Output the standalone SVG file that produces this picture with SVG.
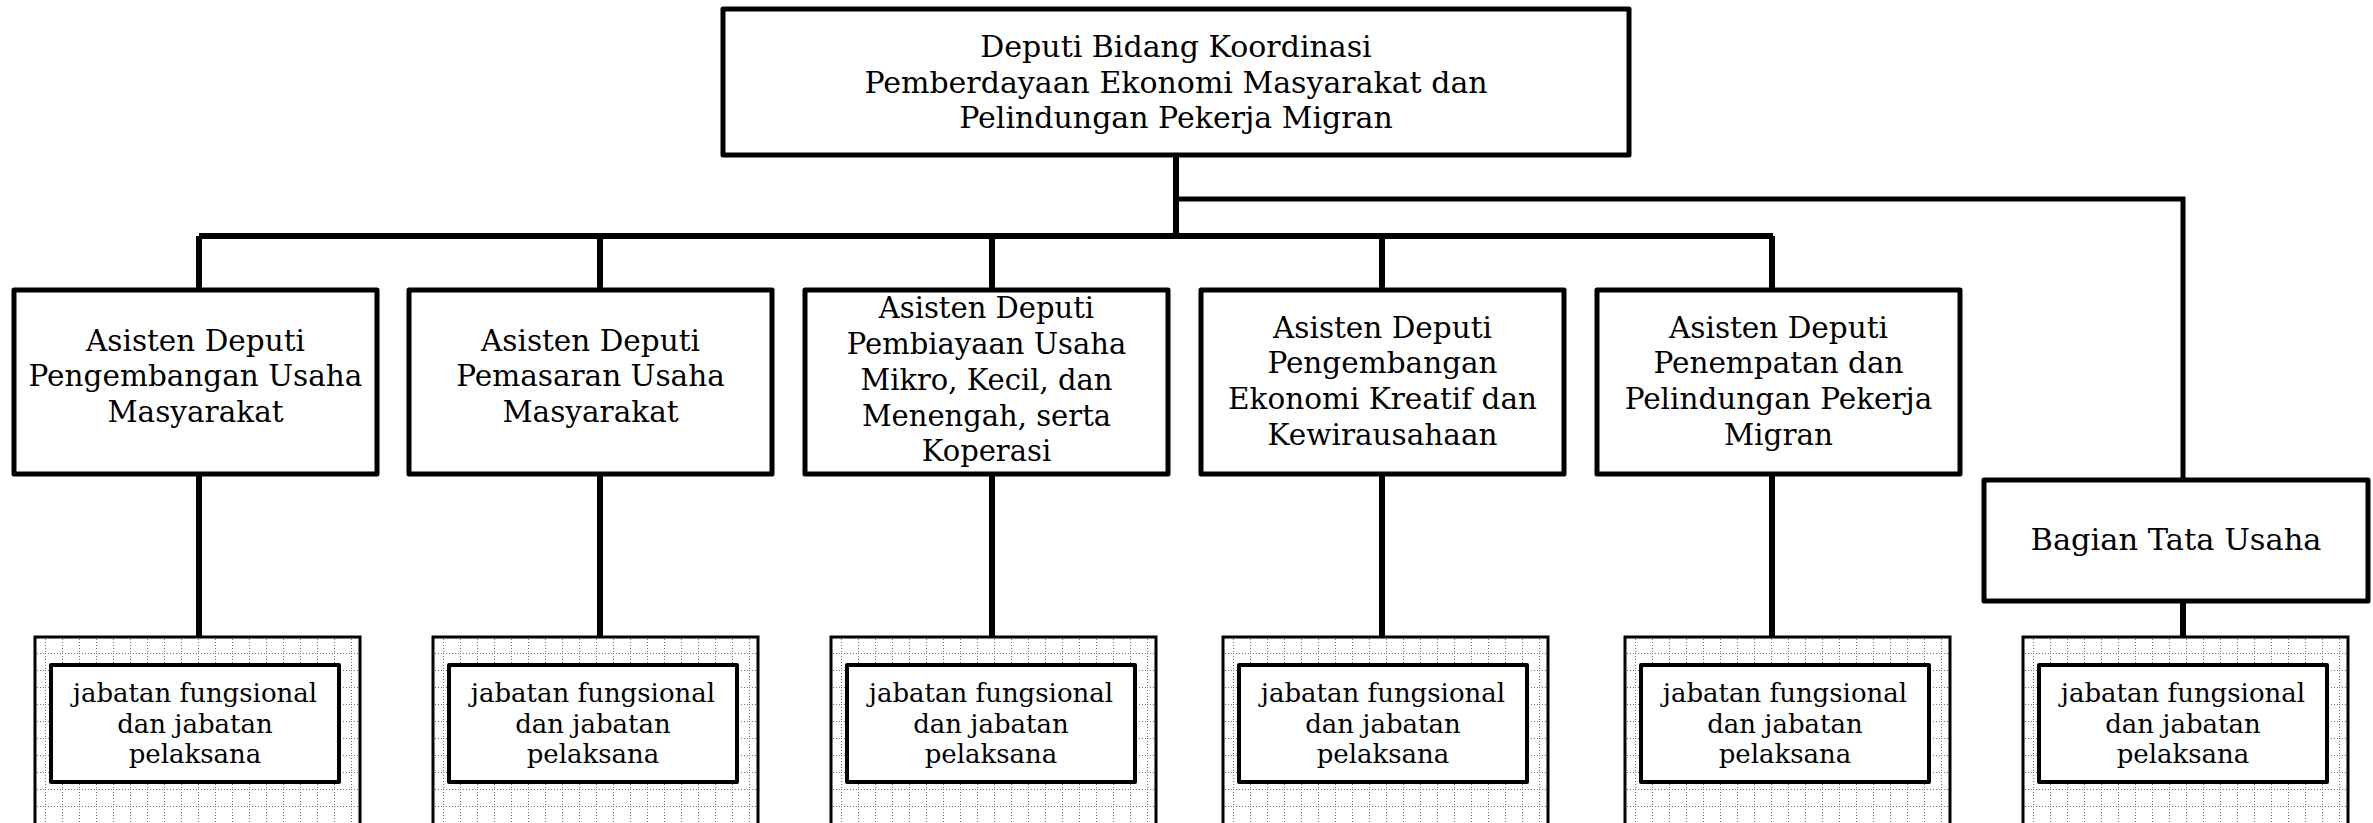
<svg xmlns="http://www.w3.org/2000/svg" width="2373" height="823" viewBox="0 0 2373 823">
<style>
.box{fill:#fff;stroke:#000;stroke-width:5;stroke-linejoin:round}
.inner{fill:#fff;stroke:#000;stroke-width:4;stroke-linejoin:round}
.outer{fill:url(#grid);stroke:#000;stroke-width:3}
.t{font-family:"DejaVu Serif","Liberation Serif",serif;font-size:29.5px;text-anchor:middle;fill:#000}
.h{font-size:30px}
.b{font-size:30.5px}
.m{font-size:29px}
.s{font-family:"DejaVu Serif","Liberation Serif",serif;font-size:26px;text-anchor:middle;fill:#000}
.c{fill:none;stroke:#000;stroke-width:6}
.c2{fill:none;stroke:#000;stroke-width:5}
</style>
<defs>
<pattern id="grid" width="17" height="17" patternUnits="userSpaceOnUse" x="10" y="16">
<rect width="17" height="17" fill="#fff"/>
<path d="M0 0.5H17M0.5 0V17" stroke="#707070" stroke-width="1" stroke-dasharray="1 2"/>
</pattern>
</defs>
<g id="connectors">
<path class="c" d="M1176 156V236M199 236H1773M199 236V290M600 236V290M992 236V290M1382 236V290M1772 236V290"/>
<path class="c2" d="M1176 199H2183V480"/>
<path class="c" d="M199 474V637M600 474V637M992 474V637M1382 474V637M1772 474V637M2183 601V637"/>
</g>
<g id="deputi">
<rect class="box" x="723" y="9" width="906" height="146"/>
<text class="t h" x="1176" y="57">Deputi Bidang Koordinasi</text>
<text class="t h" x="1176" y="93">Pemberdayaan Ekonomi Masyarakat dan</text>
<text class="t h" x="1176" y="128">Pelindungan Pekerja Migran</text>
</g>
<g id="asdep1">
<rect class="box" x="14" y="290" width="363" height="184"/>
<text class="t" x="195.5" y="351">Asisten Deputi</text>
<text class="t" x="195.5" y="386">Pengembangan Usaha</text>
<text class="t" x="195.5" y="422">Masyarakat</text>
</g>
<g id="asdep2">
<rect class="box" x="409" y="290" width="363" height="184"/>
<text class="t" x="590.5" y="351">Asisten Deputi</text>
<text class="t" x="590.5" y="386">Pemasaran Usaha</text>
<text class="t" x="590.5" y="422">Masyarakat</text>
</g>
<g id="asdep3">
<rect class="box" x="805" y="290" width="363" height="184"/>
<text class="t m" x="986.5" y="317.5">Asisten Deputi</text>
<text class="t m" x="986.5" y="353.5">Pembiayaan Usaha</text>
<text class="t m" x="986.5" y="389.5">Mikro, Kecil, dan</text>
<text class="t m" x="986.5" y="425.5">Menengah, serta</text>
<text class="t m" x="986.5" y="461">Koperasi</text>
</g>
<g id="asdep4">
<rect class="box" x="1201" y="290" width="363" height="184"/>
<text class="t" x="1382.5" y="338">Asisten Deputi</text>
<text class="t" x="1382.5" y="373">Pengembangan</text>
<text class="t" x="1382.5" y="409">Ekonomi Kreatif dan</text>
<text class="t" x="1382.5" y="445">Kewirausahaan</text>
</g>
<g id="asdep5">
<rect class="box" x="1597" y="290" width="363" height="184"/>
<text class="t" x="1778.5" y="338">Asisten Deputi</text>
<text class="t" x="1778.5" y="373">Penempatan dan</text>
<text class="t" x="1778.5" y="409">Pelindungan Pekerja</text>
<text class="t" x="1778.5" y="445">Migran</text>
</g>
<g id="tatausaha">
<rect class="box" x="1984" y="480" width="384" height="121"/>
<text class="t b" x="2176" y="550">Bagian Tata Usaha</text>
</g>
<g id="jf1" transform="translate(35,637)">
<rect class="outer" x="0" y="0" width="325" height="200"/>
<rect class="inner" x="16" y="28" width="288" height="117"/>
<text class="s" x="160" y="65">jabatan fungsional</text>
<text class="s" x="160" y="96">dan jabatan</text>
<text class="s" x="160" y="126">pelaksana</text>
</g>
<g id="jf2" transform="translate(433,637)">
<rect class="outer" x="0" y="0" width="325" height="200"/>
<rect class="inner" x="16" y="28" width="288" height="117"/>
<text class="s" x="160" y="65">jabatan fungsional</text>
<text class="s" x="160" y="96">dan jabatan</text>
<text class="s" x="160" y="126">pelaksana</text>
</g>
<g id="jf3" transform="translate(831,637)">
<rect class="outer" x="0" y="0" width="325" height="200"/>
<rect class="inner" x="16" y="28" width="288" height="117"/>
<text class="s" x="160" y="65">jabatan fungsional</text>
<text class="s" x="160" y="96">dan jabatan</text>
<text class="s" x="160" y="126">pelaksana</text>
</g>
<g id="jf4" transform="translate(1223,637)">
<rect class="outer" x="0" y="0" width="325" height="200"/>
<rect class="inner" x="16" y="28" width="288" height="117"/>
<text class="s" x="160" y="65">jabatan fungsional</text>
<text class="s" x="160" y="96">dan jabatan</text>
<text class="s" x="160" y="126">pelaksana</text>
</g>
<g id="jf5" transform="translate(1625,637)">
<rect class="outer" x="0" y="0" width="325" height="200"/>
<rect class="inner" x="16" y="28" width="288" height="117"/>
<text class="s" x="160" y="65">jabatan fungsional</text>
<text class="s" x="160" y="96">dan jabatan</text>
<text class="s" x="160" y="126">pelaksana</text>
</g>
<g id="jf6" transform="translate(2023,637)">
<rect class="outer" x="0" y="0" width="325" height="200"/>
<rect class="inner" x="16" y="28" width="288" height="117"/>
<text class="s" x="160" y="65">jabatan fungsional</text>
<text class="s" x="160" y="96">dan jabatan</text>
<text class="s" x="160" y="126">pelaksana</text>
</g>
</svg>
